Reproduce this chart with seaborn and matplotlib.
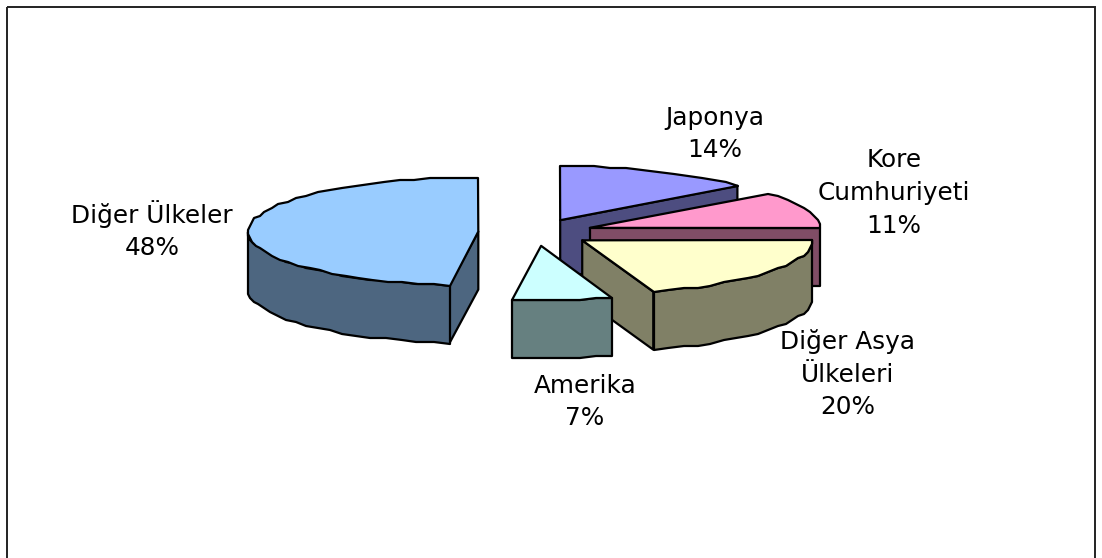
import numpy as np
import pandas as pd
import matplotlib
matplotlib.use('Agg')
import matplotlib.pyplot as plt
import seaborn as sns
from matplotlib.patches import Polygon, Rectangle

# Data, clockwise from 12 o'clock
labels = ['Japonya', 'Kore\nCumhuriyeti', 'Diğer Asya\nÜlkeleri', 'Amerika', 'Diğer Ülkeler']
shares = [14, 11, 20, 7, 48]
top_colors = ['#9999FF', '#FF99CC', '#FFFFCC', '#CCFFFF', '#99CCFF']
label_x = [715, 894, 848, 585, 152]
label_y = [134, 193, 374, 402, 230]

df = pd.DataFrame({'label': labels, 'share': shares, 'x': label_x, 'y': label_y})
df['end'] = df['share'].cumsum() / df['share'].sum() * 360
df['start'] = df['end'] - df['share'] / df['share'].sum() * 360
df['mid'] = (df['start'] + df['end']) / 2

# Pie projection, in pixels
cx, cy = 535.7, 232.4
rx, ry = 230, 54
depth = 58
explode = 0.25
step = 4

sns.set_theme(style='white')
plt.rcParams['font.family'] = ['DejaVu Sans']
colors = sns.color_palette(top_colors)
sides = [tuple(c * 0.5 for c in col) for col in colors]

fig = plt.figure(figsize=(11.02, 5.58), dpi=100)
ax = fig.add_axes([0, 0, 1, 1])
ax.set_xlim(0, 1102)
ax.set_ylim(558, 0)
ax.axis('off')

ax.add_patch(Rectangle((6.5, 6.5), 1088.5, 600, fill=False, ec='#222222', lw=1.4, clip_on=True))


def rim(ox, oy, a):
    a = np.radians(a)
    return np.column_stack([ox + rx * np.sin(a), oy - ry * np.cos(a)])


def arc(ox, oy, a0, a1):
    # coarse and snapped to the pixel grid, gives the bumpy edge
    n = max(int((a1 - a0) / step), 1)
    return np.round(rim(ox, oy, np.linspace(a0, a1, n + 1)) / 2) * 2


def draw(pts, color, z):
    ax.add_patch(Polygon(pts, closed=True, fc=color, ec='black', lw=1.6, joinstyle='round', zorder=z))


# Back to front: the big slice first, then the rest clockwise
order = [4, 0, 1, 2, 3]
for z, i in enumerate(order):
    row = df.iloc[i]
    ox = cx + explode * rx * np.sin(np.radians(row['mid']))
    oy = cy - explode * ry * np.cos(np.radians(row['mid']))
    apex = np.array([[ox, oy]])
    down = np.array([0, depth])

    # radial faces that look towards the viewer
    if np.cos(np.radians(row['start'] - 90)) < -1e-6:
        edge = rim(ox, oy, np.array([row['start']]))
        draw(np.vstack([apex, edge, edge + down, apex + down]), sides[i], z)
    if np.cos(np.radians(row['end'] + 90)) < -1e-6:
        edge = rim(ox, oy, np.array([row['end']]))
        draw(np.vstack([apex, edge, edge + down, apex + down]), sides[i], z)

    # outer wall, front half only
    a0, a1 = max(row['start'], 90), min(row['end'], 270)
    if a1 > a0:
        rim_pts = arc(ox, oy, a0, a1)
        draw(np.vstack([rim_pts, rim_pts[::-1] + down]), sides[i], z)

    # top
    draw(np.vstack([apex, arc(ox, oy, row['start'], row['end'])]), colors[i], z)

for _, row in df.iterrows():
    ax.text(row['x'], row['y'], f"{row['label']}\n{row['share']}%", ha='center', va='center',
            fontsize=17.8, color='black', linespacing=1.46, zorder=10)

fig.savefig('out.png', dpi=100)
